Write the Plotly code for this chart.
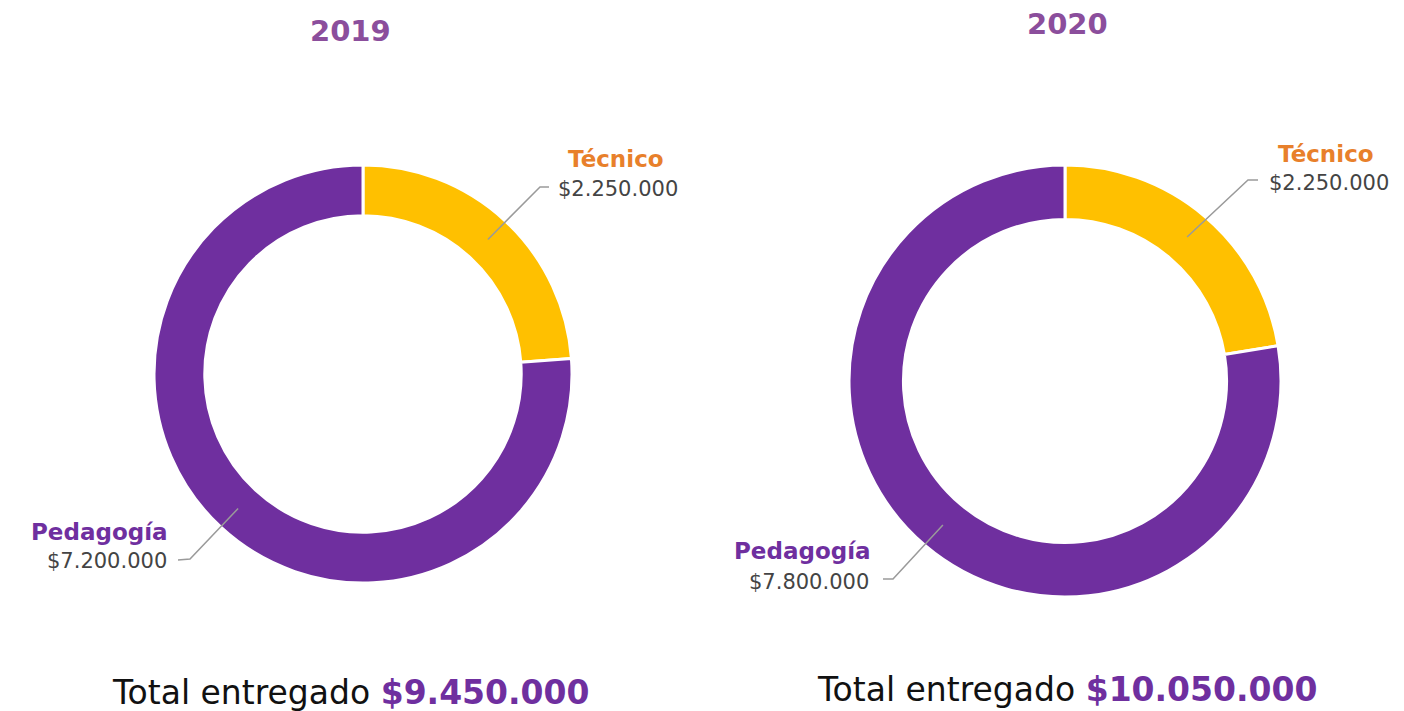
import math
import plotly.graph_objects as go

W, H = 1404, 711

years = ["2019", "2020"]
categories = ["Técnico", "Pedagogía"]
values_2019 = [2250000, 7200000]
values_2020 = [2250000, 7800000]
totals = [9450000, 10050000]

PURPLE = "#6F2F9F"
YELLOW = "#FFC000"
ORANGE = "#E8802B"
TITLE_PURPLE = "#8B4E9C"
GRAY_TEXT = "#444444"
LINE_GRAY = "#9A9A9A"
FONT = "'DejaVu Sans', sans-serif"

def fmt(v):
    return "$" + f"{v:,}".replace(",", ".")

def px(x):
    return x / W

def py(y):
    return 1 - y / H

# donut geometry (pixel centers and radii)
donuts = [
    dict(cx=363, cy=374, r=209, hole=0.757, vals=values_2019),
    dict(cx=1065, cy=381, r=216, hole=0.748, vals=values_2020),
]

fig = go.Figure()
for d in donuts:
    fig.add_trace(go.Pie(
        labels=categories, values=d["vals"], sort=False, direction="clockwise",
        rotation=0, hole=d["hole"],
        marker=dict(colors=[YELLOW, PURPLE], line=dict(color="white", width=3)),
        textinfo="none", hoverinfo="skip", showlegend=False,
        domain=dict(x=[px(d["cx"] - d["r"]), px(d["cx"] + d["r"])],
                    y=[py(d["cy"] + d["r"]), py(d["cy"] - d["r"])]),
    ))

annotations = []
shapes = []

# label placement: (kink, end, text anchor) per donut per category
label_pos = [
    {  # 2019
        "Técnico": dict(kink=(540, 187), end=(549, 187), tx=556, ty=189, xanchor="left",
                        nx=616, ny=159, nanchor="center"),
        "Pedagogía": dict(kink=(190, 559), end=(178, 560), tx=169, ty=561, xanchor="right",
                          nx=170, ny=532, nanchor="right"),
    },
    {  # 2020
        "Técnico": dict(kink=(1248, 180), end=(1258, 180), tx=1267, ty=183, xanchor="left",
                        nx=1326, ny=154, nanchor="center"),
        "Pedagogía": dict(kink=(893, 579), end=(883, 579), tx=871, ty=582, xanchor="right",
                          nx=873, ny=551, nanchor="right"),
    },
]
cat_colors = {"Técnico": ORANGE, "Pedagogía": PURPLE}

for d, lp in zip(donuts, label_pos):
    tot = sum(d["vals"])
    cum = 0
    rmid = d["r"] * (1 + d["hole"]) / 2
    for cat, v in zip(categories, d["vals"]):
        mid = (cum + v / 2) / tot * 2 * math.pi
        cum += v
        sx = d["cx"] + rmid * math.sin(mid)
        sy = d["cy"] - rmid * math.cos(mid)
        p = lp[cat]
        path = f"M {px(sx)} {py(sy)} L {px(p['kink'][0])} {py(p['kink'][1])} L {px(p['end'][0])} {py(p['end'][1])}"
        shapes.append(dict(type="path", xref="paper", yref="paper", path=path,
                           line=dict(color=LINE_GRAY, width=1.5)))
        annotations.append(dict(x=px(p["tx"]), y=py(p["ty"]), xref="paper", yref="paper",
                                text=fmt(v), showarrow=False, xanchor=p["xanchor"], yanchor="middle",
                                font=dict(family=FONT, size=21, color=GRAY_TEXT)))
        annotations.append(dict(x=px(p["nx"]), y=py(p["ny"]), xref="paper", yref="paper",
                                text=f"<b>{cat}</b>", showarrow=False, xanchor=p["nanchor"], yanchor="middle",
                                font=dict(family=FONT, size=23, color=cat_colors[cat])))

# titles
title_pos = [(350, 31), (1067, 24)]
for yr, (tx, ty) in zip(years, title_pos):
    annotations.append(dict(x=px(tx), y=py(ty), xref="paper", yref="paper", text=f"<b>{yr}</b>",
                            showarrow=False, xanchor="center", yanchor="middle",
                            font=dict(family=FONT, size=29, color=TITLE_PURPLE)))

# totals
total_pos = [(350, 692), (1067, 689)]
for t, (tx, ty) in zip(totals, total_pos):
    annotations.append(dict(x=px(tx), y=py(ty), xref="paper", yref="paper",
                            text=f"Total entregado <b><span style='color:{PURPLE}'>{fmt(t)}</span></b>",
                            showarrow=False, xanchor="center", yanchor="middle",
                            font=dict(family=FONT, size=33, color="#111111")))

fig.update_layout(width=W, height=H, margin=dict(l=0, r=0, t=0, b=0),
                  paper_bgcolor="white", plot_bgcolor="white",
                  annotations=annotations, shapes=shapes)

fig.write_html("out.html", config={"displayModeBar": False},
               post_script="document.body.style.margin='0';document.body.style.overflow='hidden';")
